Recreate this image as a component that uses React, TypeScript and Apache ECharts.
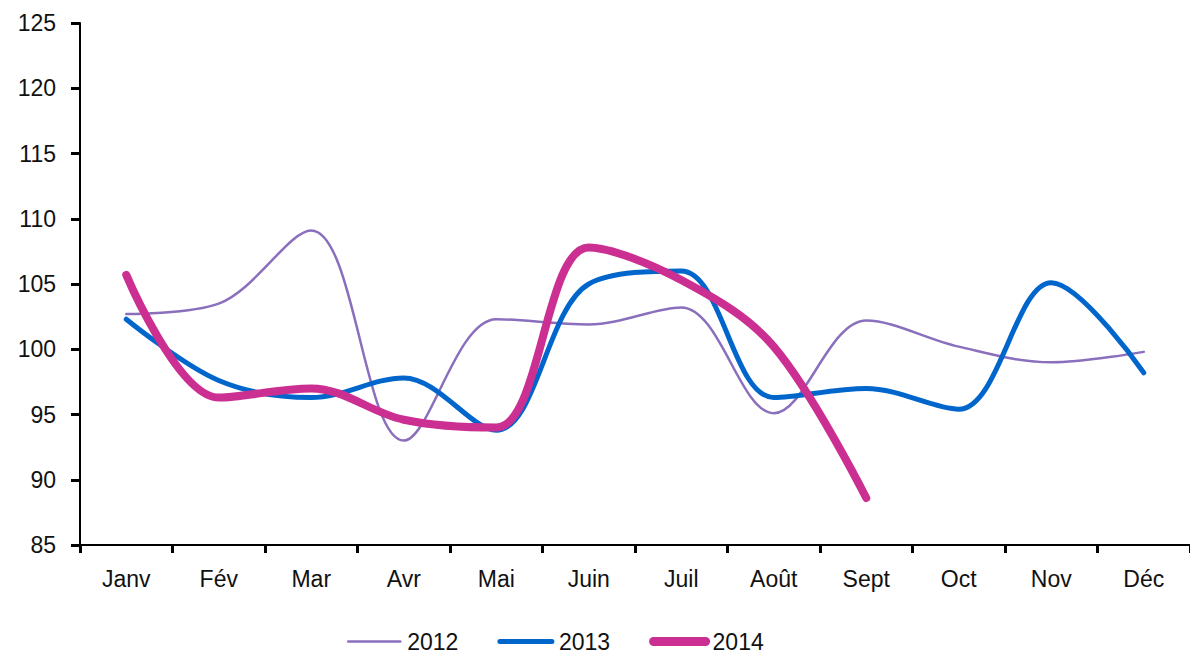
import React, { useEffect, useRef } from "react";
import * as echarts from "echarts";

const months = ["Janv", "Fév", "Mar", "Avr", "Mai", "Juin", "Juil", "Août", "Sept", "Oct", "Nov", "Déc"];
const s2012 = [102.7, 103.5, 109.1, 93.0, 102.3, 101.9, 103.2, 95.1, 102.2, 100.2, 99.0, 99.8];
const s2013 = [102.3, 97.6, 96.3, 97.8, 93.8, 105.0, 106.0, 96.3, 97.0, 95.4, 105.1, 98.2];
const s2014 = [105.7, 96.3, 97.0, 94.6, 94.0, 107.8, 105.3, 100.2, 88.6];
const seriesNames = ["2012", "2013", "2014"];
const colors = ["#8a6fbd", "#0066cc", "#cc2f92"];
const widths = [2.5, 5, 8];

const FONT = "Liberation Sans";
const SMOOTH = 0.35;

export default function App() {
  const ref = useRef<HTMLDivElement>(null);
  useEffect(() => {
    if (!ref.current) return;
    const chart = echarts.init(ref.current, null, { renderer: "svg" });
    const dataSets = [s2012, s2013, s2014];
    chart.setOption({
      animation: false,
      backgroundColor: "#ffffff",
      grid: { left: 80, right: 0, top: 23, bottom: 109, containLabel: false },
      legend: {
        top: 630,
        left: 347,
        padding: 0,
        itemWidth: 52,
        itemHeight: 12,
        itemGap: 39,
        itemStyle: { opacity: 0 },
        textStyle: { fontFamily: FONT, fontSize: 23, lineHeight: 22, color: "#111", padding: [0, 0, 0, 2] },
        data: seriesNames.map((n, i) => ({
          name: n,
          lineStyle: { color: colors[i], width: widths[i] + (i === 2 ? 1 : 0), cap: "round" },
        })),
      },
      xAxis: {
        type: "category",
        data: months,
        boundaryGap: true,
        axisLine: { lineStyle: { color: "#000", width: 2 } },
        axisTick: { show: true, length: 8, lineStyle: { color: "#000", width: 3 } },
        axisLabel: { fontFamily: FONT, fontSize: 23, color: "#111", margin: 22 },
        splitLine: { show: false },
      },
      yAxis: {
        type: "value",
        min: 85,
        max: 125,
        interval: 5,
        axisLine: { show: true, lineStyle: { color: "#000", width: 2 } },
        axisTick: { show: true, length: 9, lineStyle: { color: "#000", width: 3 } },
        axisLabel: { fontFamily: FONT, fontSize: 23, color: "#111", margin: 24 },
        splitLine: { show: false },
      },
      series: seriesNames.map((n, i) => ({
        name: n,
        type: "line",
        data: dataSets[i],
        smooth: SMOOTH,
        symbol: "none",
        lineStyle: { color: colors[i], width: widths[i], cap: "round", join: "round" },
        itemStyle: { color: colors[i] },
      })),
    });
    return () => chart.dispose();
  }, []);
  return <div ref={ref} style={{ width: 1190, height: 654, position: "absolute", left: 0, top: 0 }} />;
}
